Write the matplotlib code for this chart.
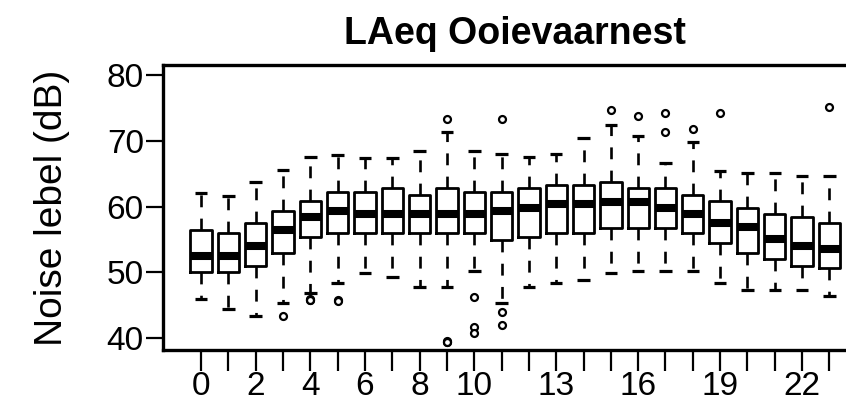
import matplotlib
matplotlib.use("Agg")
import matplotlib.pyplot as plt

plt.rcParams["font.family"] = ["Liberation Sans", "DejaVu Sans"]

# hourly LAeq summary (dB)
hours = list(range(24))
whislo = [45.98, 44.45, 43.44, 45.42, 46.84, 48.36, 49.88, 49.27, 47.75, 47.75, 50.29, 45.42,
          47.75, 48.36, 48.87, 49.88, 50.29, 50.29, 50.29, 48.36, 47.35, 47.35, 47.35, 46.43]
q1 = [50.14, 50.14, 51.05, 53.03, 55.47, 55.97, 55.97, 55.97, 55.97, 55.97, 55.97, 54.96,
      55.47, 55.97, 55.97, 56.84, 56.84, 56.84, 55.97, 54.45, 53.03, 52.07, 51.05, 50.65]
med = [52.57, 52.57, 54.10, 56.48, 58.41, 59.43, 58.92, 58.92, 58.92, 58.92, 58.92, 59.38,
       59.88, 60.39, 60.39, 60.80, 60.80, 59.88, 58.92, 57.50, 56.99, 55.06, 54.10, 53.59]
q3 = [56.48, 56.03, 57.50, 59.38, 60.90, 62.22, 62.22, 62.83, 61.81, 62.83, 62.32, 62.32,
      62.83, 63.34, 63.34, 63.84, 62.83, 62.83, 61.81, 60.90, 59.88, 58.92, 58.51, 57.50]
whishi = [62.17, 61.66, 63.74, 65.62, 67.55, 67.90, 67.50, 67.50, 68.56, 71.46, 68.56, 68.06,
          67.55, 68.06, 70.44, 72.47, 70.80, 66.63, 69.93, 65.47, 65.11, 65.11, 64.71, 64.71]
outliers = [[], [], [], [43.39], [45.95, 45.85, 45.75], [45.8, 45.7], [], [], [],
            [73.33, 39.55, 39.45, 39.35], [46.33, 41.76, 40.75], [73.33, 44.05, 42.02],
            [], [], [], [74.76], [73.84], [74.25, 71.46], [71.86], [74.25], [], [], [], [75.26]]
tick_labels = ["0", "", "2", "", "4", "", "6", "", "8", "", "10", "", "", "13", "", "",
               "16", "", "", "19", "", "", "22", ""]

stats = []
for i in range(len(hours)):
    stats.append(dict(med=med[i], q1=q1[i], q3=q3[i], whislo=whislo[i],
                      whishi=whishi[i], fliers=outliers[i]))

fig = plt.figure(figsize=(8.46, 4.09), dpi=100)
ax = fig.add_axes([0.193, 0.1443, 0.832, 0.697])

dash = (0, (4.5, 4.3))
ax.bxp(stats, positions=hours, widths=0.78, capwidths=0.46, manage_ticks=False,
       boxprops=dict(color="black", linewidth=2.0),
       medianprops=dict(color="black", linewidth=5.8, solid_capstyle="butt"),
       whiskerprops=dict(color="black", linewidth=1.9, linestyle=dash),
       capprops=dict(color="black", linewidth=2.3, solid_capstyle="butt"),
       flierprops=dict(marker="o", markersize=5, markerfacecolor="white",
                       markeredgecolor="black", markeredgewidth=1.6, linestyle="none"))

ax.set_xlim(-1.38, 24.38)
ax.set_ylim(38.2, 81.6)
ax.set_xticks(hours)
ax.set_xticklabels(tick_labels)
ax.set_yticks([40, 50, 60, 70, 80])

for s in ax.spines.values():
    s.set_linewidth(2.4)
ax.tick_params(axis="x", length=15, width=1.6, pad=0, labelsize=24)
ax.tick_params(axis="y", length=12, width=1.6, pad=2, labelsize=24)

ax.set_title("LAeq Ooievaarnest", fontsize=27, fontweight="bold", pad=15)
ax.set_ylabel("Noise lebel (dB)", fontsize=28)
ax.yaxis.set_label_coords(-0.1325, 0.5)

fig.savefig("out.png", dpi=100)
